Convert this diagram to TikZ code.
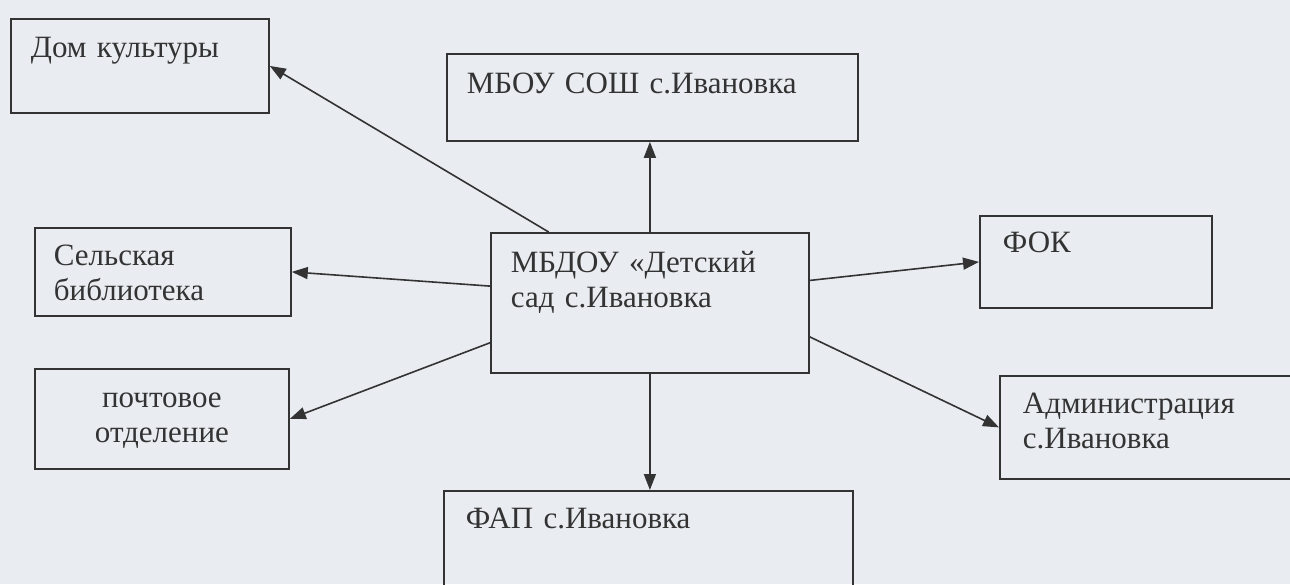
\documentclass[tikz,border=0pt]{standalone}
\usepackage{fontspec}
\setmainfont{Liberation Serif}
\usetikzlibrary{arrows.meta}
\definecolor{paper}{HTML}{E9EDF2}
\definecolor{ink}{HTML}{333333}
\begin{document}
\begin{tikzpicture}
    [
  x=1pt, y=-1pt,
  box/.style={
    draw=ink,
    line width=1.8pt,
    anchor=north west,
    inner xsep=20pt,
    inner ysep=0pt,
    align=left,
    text=ink,
    font=\fontsize{31}{35}\selectfont
  },
  link/.style={
    draw=ink,
    line width=1.6pt,
    -{Triangle[length=16pt,width=12pt]}
  }
  ]
  \fill [paper] (0,0) rectangle (1290,584);
  \useasboundingbox (0,0) rectangle (1290,584);
  \clip (0,0) rectangle (1290,584);
  \node (dom) at (10,18) [box, text width=218pt, text height=39pt, text depth=55pt] {Дом культуры};
  \node (mbou) at (446,53) [box, text width=371pt, text height=40pt, text depth=47pt] {МБОУ СОШ с.Ивановка};
  \node (sad) at (490,232) [box, text width=278pt, text height=40pt, text depth=100pt] {МБДОУ «Детский\\сад с.Ивановка};
  \node (sel) at (34,227) [box, inner xsep=19pt, text width=218pt, text height=38pt, text depth=50pt] {Сельская\\библиотека};
  \node (pocht) at (34,368) [box, align=center, text width=214pt, text height=39pt, text depth=61pt] {почтовое\\отделение};
  \node (fok) at (979,215) [box, inner xsep=23pt, text width=186pt, text height=37pt, text depth=55pt] {ФОК};
  \node (adm) at (999,375) [box, inner xsep=23pt, text width=330pt, text height=38pt, text depth=65pt] {Администрация\\с.Ивановка};
  \node (fap) at (443,490) [box, inner xsep=22pt, text width=365pt, text height=38pt, text depth=72pt] {ФАП с.Ивановка};

  \draw [link] (sad.145) -- (dom.east);
  \draw [link] (sad.north) -- (sad.north |- mbou.south);
  \draw [link] (sad.174) -- (sel.east);
  \draw [link] (sad.194) -- (pocht.east);
  \draw [link] (sad.8) -- (fok.west);
  \draw [link] (sad.-12) -- (adm.west);
  \draw [link] (sad.south) -- (sad.south |- fap.north);
\end{tikzpicture}
\end{document}
